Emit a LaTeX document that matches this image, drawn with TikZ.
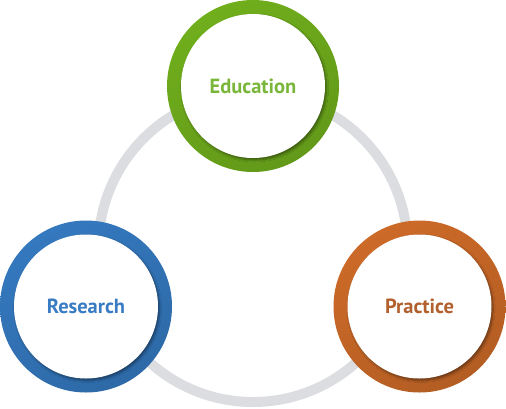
\documentclass[tikz,border=0pt]{standalone}
\usepackage{fontspec}
\setmainfont{PT Sans}
\usetikzlibrary{shadows.blur}
\definecolor{edgreen}{RGB}{112,174,28}
\definecolor{edtext}{RGB}{122,182,58}
\definecolor{resblue}{RGB}{52,120,190}
\definecolor{restext}{RGB}{58,124,196}
\definecolor{praor}{RGB}{204,106,40}
\definecolor{pratext}{RGB}{178,96,46}
\definecolor{loopgray}{RGB}{220,221,225}
\tikzset{
  ringdisk/.style={circle, minimum size=172pt, inner sep=0pt, draw=none,
    left color=#1, right color=#1!88!black, shading angle=30},
  innerdisk/.style={circle, minimum size=144pt, inner sep=0pt, fill=white,
    font=\fontsize{20.5}{22}\selectfont\bfseries,
    blur shadow={shadow xshift=1.6pt, shadow yshift=-2pt, shadow blur steps=6, shadow opacity=40}},
  loopring/.style={draw=loopgray, line width=10pt}
}
\begin{document}
\begin{tikzpicture}[x=1pt,y=-1pt]
\useasboundingbox (0,0) rectangle (506,408);
\coordinate (loopc) at (253,247.5);
\draw[loopring] (loopc) circle[radius=154.5];
\node[ringdisk=edgreen] (eduring) at (253,86) {};
\node[innerdisk, text=edtext] (edu) at (eduring.center) {Education};
\node[ringdisk=resblue] (resring) at (86,306.5) {};
\node[innerdisk, text=restext] (res) at (resring.center) {Research};
\node[ringdisk=praor] (praring) at (419.5,306.5) {};
\node[innerdisk, text=pratext] (pra) at (praring.center) {Practice};
\end{tikzpicture}
\end{document}
